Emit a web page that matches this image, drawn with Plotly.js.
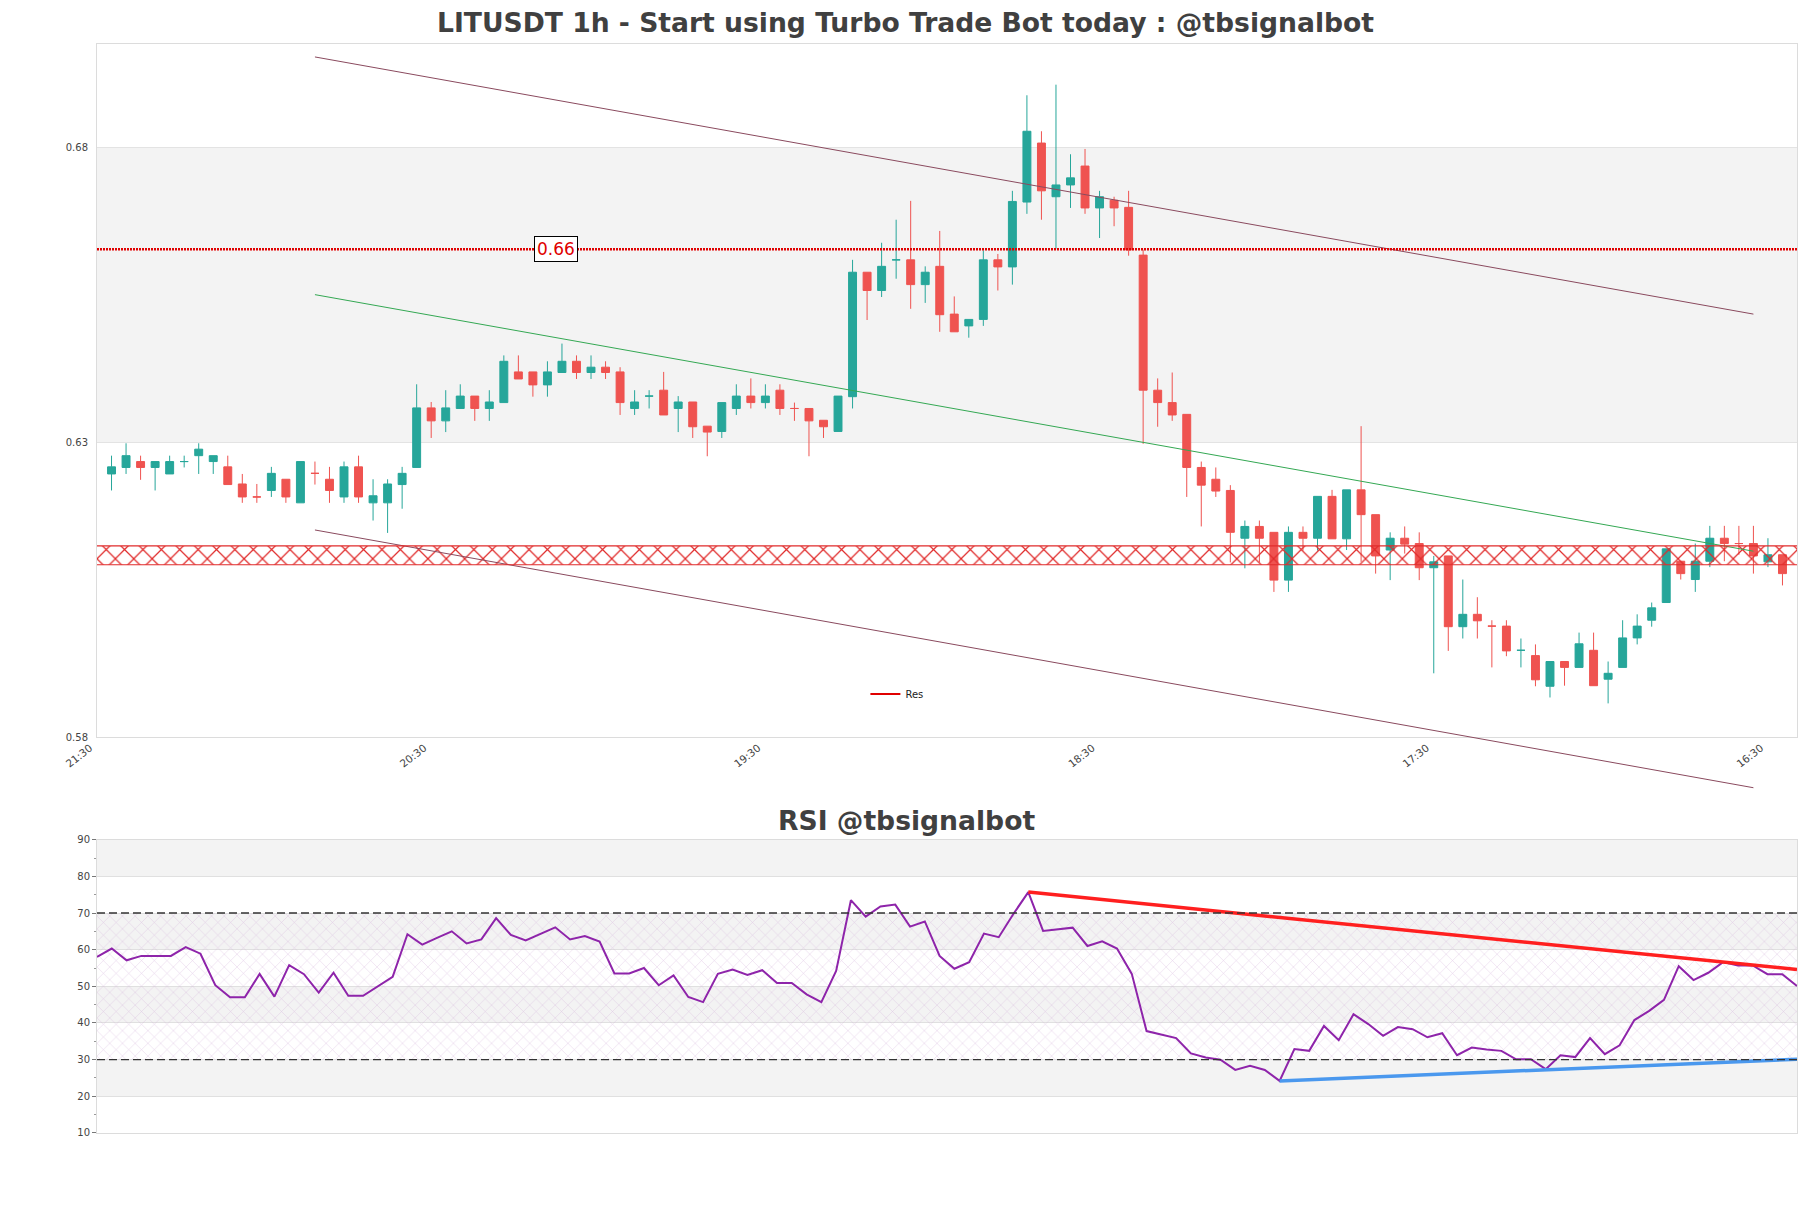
<!DOCTYPE html>
<html><head><meta charset="utf-8">
<script src="https://cdn.plot.ly/plotly-3.0.1.min.js"></script>
<style>html,body{margin:0;padding:0;background:#fff}#chart{width:1811px;height:1208px}</style>
</head><body><div id="chart"></div>
<script>
// ---------------- data ----------------
const candleOpen = [0.6246,0.6257,0.6267,0.6257,0.6246,0.6267,0.6277,0.6267,0.6258,0.6229,
0.6207,0.6218,0.6237,0.6197,0.6247,0.6237,0.6207,0.6258,0.6197,0.6197,
0.6228,0.6257,0.6358,0.6336,0.6357,0.6378,0.6357,0.6367,0.6419,0.6419,
0.6397,0.6418,0.6437,0.6418,0.6427,0.6419,0.6357,0.6378,0.6388,0.6357,
0.6368,0.6327,0.6318,0.6357,0.6378,0.6367,0.6388,0.6357,0.6357,0.6337,
0.6318,0.6377,0.6588,0.6557,0.6609,0.6609,0.6567,0.6598,0.6517,0.6497,
0.6508,0.6609,0.6597,0.6707,0.6807,0.6716,0.6736,0.6768,0.6697,0.6710,
0.6698,0.6617,0.6388,0.6367,0.6347,0.6257,0.6237,0.6218,0.6137,0.6157,
0.6147,0.6066,0.6147,0.6137,0.6208,0.6136,0.6219,0.6177,0.6117,0.6137,
0.6128,0.6087,0.6107,0.5987,0.6008,0.5988,0.5988,0.5947,0.5938,0.5886,
0.5928,0.5918,0.5947,0.5898,0.5918,0.5968,0.5998,0.6028,0.6098,0.6067,
0.6098,0.6137,0.6128,0.6128,0.6097,0.6109];
const candleHigh = [0.6277,0.6298,0.6277,0.6267,0.6277,0.6277,0.6298,0.6277,0.6277,0.6246,
0.6229,0.6258,0.6237,0.6267,0.6267,0.6258,0.6267,0.6277,0.6237,0.6237,
0.6258,0.6398,0.6368,0.6388,0.6398,0.6378,0.6388,0.6447,0.6447,0.6419,
0.6437,0.6467,0.6447,0.6447,0.6437,0.6427,0.6388,0.6388,0.6419,0.6378,
0.6368,0.6327,0.6367,0.6398,0.6408,0.6398,0.6398,0.6367,0.6357,0.6337,
0.6378,0.6609,0.6588,0.6638,0.6677,0.6709,0.6598,0.6658,0.6547,0.6508,
0.6625,0.6619,0.6726,0.6888,0.6827,0.6906,0.6788,0.6797,0.6726,0.6716,
0.6726,0.6626,0.6408,0.6418,0.6347,0.6267,0.6257,0.6227,0.6167,0.6167,
0.6147,0.6157,0.6157,0.6208,0.6219,0.6219,0.6327,0.6177,0.6147,0.6157,
0.6147,0.6107,0.6107,0.6067,0.6037,0.5998,0.5998,0.5967,0.5957,0.5928,
0.5928,0.5977,0.5977,0.5928,0.5998,0.6008,0.6028,0.6119,0.6098,0.6128,
0.6158,0.6158,0.6158,0.6158,0.6137,0.6109];
const candleLow = [0.6218,0.6246,0.6236,0.6218,0.6246,0.6257,0.6246,0.6246,0.6228,0.6197,
0.6197,0.6207,0.6197,0.6197,0.6228,0.6197,0.6197,0.6197,0.6167,0.6146,
0.6187,0.6257,0.6307,0.6317,0.6357,0.6336,0.6336,0.6367,0.6407,0.6377,
0.6377,0.6418,0.6407,0.6407,0.6407,0.6346,0.6346,0.6357,0.6346,0.6317,
0.6307,0.6276,0.6307,0.6346,0.6357,0.6357,0.6346,0.6336,0.6276,0.6307,
0.6318,0.6357,0.6507,0.6546,0.6577,0.6526,0.6536,0.6487,0.6487,0.6477,
0.6497,0.6557,0.6567,0.6687,0.6677,0.6628,0.6697,0.6687,0.6646,0.6666,
0.6616,0.6297,0.6326,0.6336,0.6207,0.6157,0.6207,0.6096,0.6086,0.6096,
0.6046,0.6046,0.6116,0.6116,0.6136,0.6117,0.6097,0.6077,0.6066,0.6111,
0.6066,0.5908,0.5946,0.5967,0.5967,0.5918,0.5937,0.5918,0.5886,0.5867,
0.5887,0.5918,0.5887,0.5857,0.5918,0.5957,0.5987,0.6028,0.6067,0.6046,
0.6088,0.6098,0.6109,0.6077,0.6088,0.6057];
const candleClose = [0.6258,0.6277,0.6257,0.6267,0.6267,0.6267,0.6288,0.6277,0.6228,0.6207,
0.6207,0.6247,0.6207,0.6267,0.6247,0.6218,0.6258,0.6207,0.6209,0.6229,
0.6247,0.6358,0.6336,0.6358,0.6378,0.6357,0.6368,0.6437,0.6407,0.6397,
0.6419,0.6437,0.6418,0.6427,0.6418,0.6367,0.6368,0.6378,0.6346,0.6368,
0.6326,0.6317,0.6367,0.6378,0.6367,0.6378,0.6357,0.6357,0.6336,0.6326,
0.6378,0.6588,0.6557,0.6598,0.6609,0.6567,0.6588,0.6516,0.6487,0.6508,
0.6609,0.6597,0.6708,0.6827,0.6726,0.6736,0.6748,0.6697,0.6716,0.6697,
0.6626,0.6388,0.6367,0.6346,0.6257,0.6227,0.6217,0.6147,0.6157,0.6137,
0.6066,0.6147,0.6137,0.6208,0.6136,0.6219,0.6177,0.6107,0.6137,0.6127,
0.6087,0.6097,0.5987,0.6008,0.5997,0.5988,0.5946,0.5947,0.5897,0.5928,
0.5918,0.5958,0.5887,0.5908,0.5968,0.5988,0.6019,0.6119,0.6077,0.6098,
0.6137,0.6128,0.6128,0.6107,0.6109,0.6077];
const rsiValues = [58.0,60.3,57.1,58.3,58.3,58.3,60.7,58.9,50.3,47.0,
47.0,53.4,47.2,55.8,53.3,48.3,53.7,47.4,47.4,50.1,
52.6,64.2,61.4,63.2,65.0,61.7,62.8,68.6,64.0,62.5,
64.3,66.1,62.8,63.7,62.2,53.5,53.5,55.0,50.3,53.0,
47.1,45.7,53.4,54.6,53.1,54.4,50.9,50.9,47.8,45.7,
54.2,73.5,69.0,71.8,72.3,66.3,67.7,58.3,54.8,56.6,
64.4,63.4,69.8,75.7,65.1,65.5,66.0,61.0,62.3,60.3,
53.4,37.8,36.8,35.9,31.7,30.6,30.0,27.2,28.3,27.2,
24.2,32.9,32.4,39.2,35.3,42.4,39.7,36.5,38.9,38.3,
36.1,37.2,31.2,33.3,32.8,32.4,30.1,30.1,27.4,31.2,
30.7,35.9,31.5,33.9,40.8,43.3,46.3,55.5,51.7,53.7,
56.6,55.7,55.7,53.3,53.3,50.1];
const xTickLabels = ['21:30','20:30','19:30','18:30','17:30','16:30'];
// channel trend lines (candle index, price)
const channelUpperX = [14, 113], channelUpperY = [0.6953, 0.6517];
const channelMidX   = [14, 113], channelMidY   = [0.6550, 0.6115];
const channelLowerX = [14, 113], channelLowerY = [0.6151, 0.5714];
// levels
const resistanceLevel = 0.6627, resistanceLabel = '0.66';
const resZoneLow = 0.6092, resZoneHigh = 0.6124;
// RSI trend lines (index, rsi)
const rsiResX = [63, 115], rsiResY = [75.7, 54.6];
const rsiSupX = [80, 115], rsiSupY = [24.2, 30.1];

// ---------------- layout helpers ----------------
const idx = candleClose.map((_, i) => i);
const rsiIdx = rsiValues.map((_, i) => i);
const xRange = [-1, 116];
const rsiXRange = [0, rsiValues.length - 1];
const mainDomain = [0.3899, 0.9636];
const priceRange = [0.58, 0.6975];
const trendDomain = [0.33, 0.9636];
const trendRange = [priceRange[1] - (trendDomain[1]-trendDomain[0])/(mainDomain[1]-mainDomain[0])*(priceRange[1]-priceRange[0]), priceRange[1]];
const tickPos = xTickLabels.map((_, i) => xRange[0] + 23*i);

const GREEN = '#26a69a', RED = '#ef5350';
const brown = '#8a4a5e';

const traces = [
  { // resistance zone hatch
    type:'scatter', mode:'lines', x:[xRange[0],xRange[1],xRange[1],xRange[0],xRange[0]],
    y:[resZoneLow,resZoneLow,resZoneHigh,resZoneHigh,resZoneLow],
    fill:'toself', fillcolor:'rgba(255,255,255,0)', line:{width:0},
    fillpattern:{shape:'x', size:13, solidity:0.18, fgcolor:'#e02b2b', bgcolor:'rgba(255,255,255,0)'},
    showlegend:false, hoverinfo:'skip', xaxis:'x', yaxis:'y'
  },
  {
    type:'candlestick', x:idx, open:candleOpen, high:candleHigh, low:candleLow, close:candleClose,
    increasing:{line:{color:GREEN,width:1}, fillcolor:GREEN},
    decreasing:{line:{color:RED,width:1}, fillcolor:RED},
    whiskerwidth:0, showlegend:false, hoverinfo:'skip', xaxis:'x', yaxis:'y'
  },
  {type:'scatter', mode:'lines', x:channelUpperX, y:channelUpperY, line:{color:brown,width:1}, xaxis:'x', yaxis:'y3', showlegend:false, hoverinfo:'skip'},
  {type:'scatter', mode:'lines', x:channelMidX, y:channelMidY, line:{color:'#34a853',width:1}, xaxis:'x', yaxis:'y3', showlegend:false, hoverinfo:'skip'},
  {type:'scatter', mode:'lines', x:channelLowerX, y:channelLowerY, line:{color:brown,width:1}, xaxis:'x', yaxis:'y3', showlegend:false, hoverinfo:'skip'},
  {type:'scatter', mode:'lines', x:[null], y:[null], name:'Res', line:{color:'#e00000',width:2}, xaxis:'x', yaxis:'y', showlegend:true},
  { // RSI hatch 30-70
    type:'scatter', mode:'lines', x:[rsiXRange[0],rsiXRange[1],rsiXRange[1],rsiXRange[0],rsiXRange[0]],
    y:[30,30,70,70,30], fill:'toself', fillcolor:'rgba(255,255,255,0)', line:{width:0},
    fillpattern:{shape:'x', size:9, solidity:0.1, fgcolor:'rgba(205,165,215,0.6)', bgcolor:'rgba(255,255,255,0)'},
    showlegend:false, hoverinfo:'skip', xaxis:'x2', yaxis:'y2'
  },
  {type:'scatter', mode:'lines', x:rsiIdx, y:rsiValues, line:{color:'#8e24aa',width:2}, xaxis:'x2', yaxis:'y2', showlegend:false, hoverinfo:'skip'},
  {type:'scatter', mode:'lines', x:rsiResX, y:rsiResY, line:{color:'#ff1f1f',width:3.5}, xaxis:'x2', yaxis:'y2', showlegend:false, hoverinfo:'skip'},
  {type:'scatter', mode:'lines', x:rsiSupX, y:rsiSupY, line:{color:'#4a98ee',width:3.5}, xaxis:'x2', yaxis:'y2', showlegend:false, hoverinfo:'skip'}
];

const band = '#f3f3f3';
const shapes = [
  {type:'rect', xref:'paper', x0:0, x1:1, yref:'y', y0:0.63, y1:0.68, fillcolor:band, line:{width:0}, layer:'below'},
  {type:'line', xref:'paper', x0:0, x1:1, yref:'y', y0:resistanceLevel, y1:resistanceLevel, line:{color:'#e00000', width:2.5, dash:'2px,1px'}},
  {type:'line', xref:'paper', x0:0, x1:1, yref:'y', y0:resZoneLow, y1:resZoneLow, line:{color:'#e02b2b', width:1.2}},
  {type:'line', xref:'paper', x0:0, x1:1, yref:'y', y0:resZoneHigh, y1:resZoneHigh, line:{color:'#e02b2b', width:1.2}},
];
[[80,90],[60,70],[40,50],[20,30]].forEach(b => shapes.push(
  {type:'rect', xref:'paper', x0:0, x1:1, yref:'y2', y0:b[0], y1:b[1], fillcolor:band, line:{width:0}, layer:'below'}));
[30,70].forEach(v => shapes.push(
  {type:'line', xref:'paper', x0:0, x1:1, yref:'y2', y0:v, y1:v, line:{color:'#333', width:1.3, dash:'8px,4px'}}));

const tickFont = {family:'DejaVu Sans', size:10, color:'#444'};
const layout = {
  width:1811, height:1208,
  margin:{l:97, r:14, t:0, b:0},
  paper_bgcolor:'#fff', plot_bgcolor:'rgba(255,255,255,0)',
  font:{family:'DejaVu Sans', color:'#444'},
  title:{text:'<b>LITUSDT 1h - Start using Turbo Trade Bot today : @tbsignalbot</b>',
    x:0.5, xref:'container', xanchor:'center', y:1-23/1208, yref:'container', yanchor:'middle',
    font:{family:'DejaVu Sans', size:26.6, color:'#404040'}},
  boxgap:0.22,
  showlegend:true,
  legend:{x:0.452, xanchor:'left', y:(1208-694)/1208, yanchor:'middle', bgcolor:'rgba(0,0,0,0)',
    font:{family:'DejaVu Sans', size:10, color:'#222'}, itemwidth:30},
  xaxis:{domain:[0,1], range:xRange, anchor:'y', tickvals:tickPos, ticktext:xTickLabels, tickangle:-38,
    tickfont:{family:'DejaVu Sans', size:10.5, color:'#444'}, ticklabelshift:-7,
    showgrid:false, zeroline:false, showline:true, mirror:true, linecolor:'#dcdcdc',
    ticks:'', rangeslider:{visible:false}, fixedrange:true},
  yaxis:{domain:mainDomain, range:priceRange, anchor:'x', tickvals:[0.58,0.63,0.68], ticktext:['0.58','0.63','0.68'],
    tickfont:tickFont, showgrid:true, gridcolor:'#e3e3e3', zeroline:false, showline:true, mirror:true,
    linecolor:'#dcdcdc', ticks:'outside', ticklen:6, tickcolor:'rgba(0,0,0,0)'},
  yaxis3:{domain:trendDomain, range:trendRange, anchor:'x', visible:false, showgrid:false, zeroline:false},
  xaxis2:{domain:[0,1], range:rsiXRange, anchor:'y2', showticklabels:false, showgrid:false, zeroline:false,
    showline:true, mirror:true, linecolor:'#dcdcdc', ticks:''},
  yaxis2:{domain:[0.0621,0.3049], range:[10,90], anchor:'x2', tickvals:[10,20,30,40,50,60,70,80,90],
    tickfont:tickFont, showgrid:true, gridcolor:'#e0e0e0', zeroline:false, showline:true, mirror:true,
    linecolor:'#dcdcdc', ticks:'outside', ticklen:4, tickcolor:'#777',
    minor:{dtick:5, ticks:'outside', ticklen:2, tickcolor:'#999', showgrid:false}},
  shapes:shapes,
  annotations:[
    {xref:'x', yref:'y', x:30.6, y:resistanceLevel, text:resistanceLabel, showarrow:false,
      font:{family:'DejaVu Sans', size:17, color:'#e00000'}, bgcolor:'#fff', bordercolor:'#000', borderwidth:1, borderpad:2},
    {xref:'paper', yref:'paper', x:(906-97)/1700, y:(1208-820)/1208, text:'<b>RSI @tbsignalbot</b>', showarrow:false,
      xanchor:'center', yanchor:'middle', font:{family:'DejaVu Sans', size:26.6, color:'#404040'}}
  ]
};
Plotly.newPlot('chart', traces, layout, {staticPlot:true, displayModeBar:false});
</script></body></html>
